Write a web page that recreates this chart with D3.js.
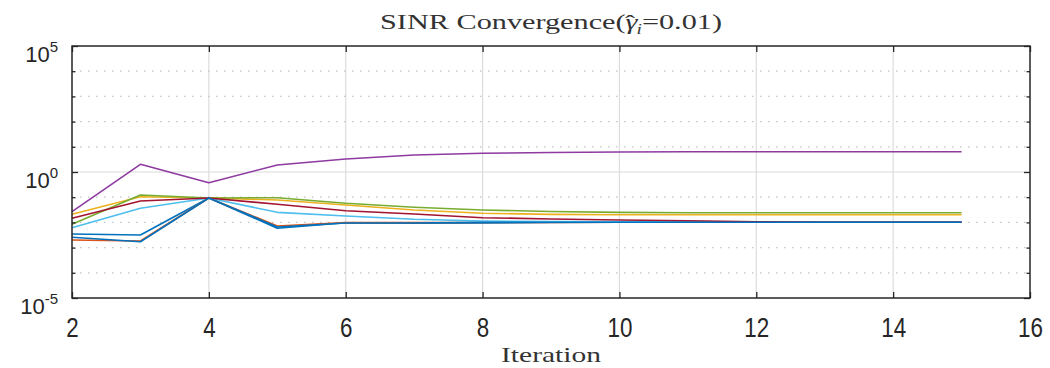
<!DOCTYPE html>
<html>
<head>
<meta charset="utf-8">
<script src="https://cdn.jsdelivr.net/npm/d3@7"></script>
<style>
  html, body { margin: 0; padding: 0; background: #fff; }
  svg { display: block; }
</style>
</head>
<body>
<svg id="chart" width="1050" height="368"></svg>
<script>
// ---- data ----
const iterations = [2, 3, 4, 5, 6, 7, 8, 9, 10, 11, 12, 13, 14, 15];
const seriesBlue1   = [0.00347, 0.00316, 0.093, 0.00583, 0.00973, 0.0092, 0.00946, 0.0099, 0.0101, 0.0102, 0.0102, 0.0102, 0.0102, 0.0102];
const seriesOrange  = [0.0020, 0.00183, 0.093, 0.0072, 0.0099, 0.0098, 0.0099, 0.0100, 0.0101, 0.0101, 0.0101, 0.0101, 0.0101, 0.0101];
const seriesYellow  = [0.0209, 0.1047, 0.093, 0.0774, 0.049, 0.031, 0.023, 0.0209, 0.0202, 0.0202, 0.0202, 0.0202, 0.0202, 0.0202];
const seriesPurple  = [0.0266, 2.02, 0.376, 1.90, 3.28, 4.73, 5.52, 5.94, 6.22, 6.34, 6.40, 6.40, 6.40, 6.40];
const seriesGreen   = [0.0084, 0.122, 0.093, 0.0955, 0.0573, 0.0398, 0.031, 0.0271, 0.0251, 0.0243, 0.0243, 0.0243, 0.0243, 0.0243];
const seriesLtBlue  = [0.00616, 0.0363, 0.093, 0.0251, 0.01795, 0.01328, 0.01137, 0.01086, 0.01056, 0.01037, 0.0102, 0.0102, 0.0102, 0.0102];
const seriesRed     = [0.01456, 0.0706, 0.093, 0.0523, 0.0291, 0.0215, 0.01538, 0.01365, 0.01245, 0.01156, 0.01066, 0.0102, 0.0102, 0.0102];
const seriesBlue2   = [0.00257, 0.00171, 0.093, 0.0066, 0.0095, 0.0095, 0.0100, 0.0101, 0.0102, 0.0102, 0.0102, 0.0102, 0.0102, 0.0102];

const xTicks = [2, 4, 6, 8, 10, 12, 14, 16];
const yMajorTicks = [1e-5, 1e0, 1e5];
const yMajorExponents = ["-5", "0", "5"];
const yMinorTicks = [1e-4, 1e-3, 1e-2, 1e-1, 1e1, 1e2, 1e3, 1e4];

const allSeries = [seriesBlue1, seriesOrange, seriesYellow, seriesPurple, seriesGreen, seriesLtBlue, seriesRed, seriesBlue2];
const colors = ["#0072BD", "#D95319", "#EDB120", "#8E3AA0", "#77AC30", "#4DBEEE", "#A2142F", "#0072BD"];

// ---- layout ----
const L = 72, R = 1030, T = 46, B = 298;
const svg = d3.select("#chart");
const x = d3.scaleLinear().domain([2, 16]).range([L, R]);
const y = d3.scaleLog().domain([1e-5, 1e5]).range([B, T]);

// grid
const grid = svg.append("g");
grid.selectAll("line.vg").data(xTicks.slice(1, -1)).join("line")
  .attr("x1", d => x(d)).attr("x2", d => x(d)).attr("y1", T).attr("y2", B)
  .attr("stroke", "#dcdcdc").attr("stroke-width", 1.2);
grid.selectAll("line.hg").data([1e0]).join("line")
  .attr("x1", L).attr("x2", R).attr("y1", d => y(d)).attr("y2", d => y(d))
  .attr("stroke", "#dcdcdc").attr("stroke-width", 1.2);
grid.selectAll("line.mg").data(yMinorTicks).join("line")
  .attr("x1", L).attr("x2", R).attr("y1", d => y(d)).attr("y2", d => y(d))
  .attr("stroke", "#c4c4c4").attr("stroke-width", 1.2).attr("stroke-dasharray", "1.5,6.5");

// lines
const line = d3.line().x((d, i) => x(iterations[i])).y(d => y(d));
svg.append("g").selectAll("path").data(allSeries).join("path")
  .attr("d", d => line(d))
  .attr("fill", "none")
  .attr("stroke", (d, i) => colors[i])
  .attr("stroke-width", 1.6)
  .attr("stroke-linejoin", "round");

// axes
const axisColor = "#262626";
const xAxisB = svg.append("g").attr("transform", `translate(0,${B})`)
  .call(d3.axisBottom(x).tickValues(xTicks).tickSizeInner(-6).tickSizeOuter(0).tickFormat(d3.format("d")));
const xAxisT = svg.append("g").attr("transform", `translate(0,${T})`)
  .call(d3.axisTop(x).tickValues(xTicks).tickSizeInner(-6).tickSizeOuter(0).tickFormat(""));
const yAxisL = svg.append("g").attr("transform", `translate(${L},0)`)
  .call(d3.axisLeft(y).tickValues(yMajorTicks).tickSizeInner(-6).tickSizeOuter(0).tickFormat(""));
const yAxisR = svg.append("g").attr("transform", `translate(${R},0)`)
  .call(d3.axisRight(y).tickValues(yMajorTicks).tickSizeInner(-6).tickSizeOuter(0).tickFormat(""));
const yMinL = svg.append("g").attr("transform", `translate(${L},0)`)
  .call(d3.axisLeft(y).tickValues(yMinorTicks).tickSizeInner(-3.5).tickSizeOuter(0).tickFormat(""));
const yMinR = svg.append("g").attr("transform", `translate(${R},0)`)
  .call(d3.axisRight(y).tickValues(yMinorTicks).tickSizeInner(-3.5).tickSizeOuter(0).tickFormat(""));

[xAxisB, xAxisT, yAxisL, yAxisR, yMinL, yMinR].forEach(g => {
  g.select(".domain").remove();
  g.selectAll(".tick line").attr("stroke", axisColor).attr("stroke-width", 1.3);
});

xAxisB.selectAll(".tick text")
  .attr("font-family", "'Liberation Sans', Arial, sans-serif")
  .attr("font-size", 28)
  .attr("fill", "#262626")
  .attr("y", 39).attr("dy", null)
  .attr("transform", "scale(0.8,1)");

// y labels with superscripts
yAxisL.selectAll(".tick").each(function(d, i) {
  const t = d3.select(this).append("text")
    .attr("x", -28).attr("y", 15)
    .attr("text-anchor", "end")
    .attr("font-family", "'Liberation Sans', Arial, sans-serif")
    .attr("font-size", 22).attr("fill", "#262626");
  t.append("tspan").text("10");
  t.append("tspan").text(yMajorExponents[i]).attr("font-size", 15).attr("dy", "-0.65em");
  t.attr("transform", "translate(14,0)");
});

// box
svg.append("rect").attr("x", L).attr("y", T).attr("width", R - L).attr("height", B - T)
  .attr("fill", "none").attr("stroke", axisColor).attr("stroke-width", 1.5);

// title
const title = svg.append("text")
  .attr("x", (L + R) / 2).attr("y", 29)
  .attr("text-anchor", "middle")
  .attr("font-family", "'Liberation Serif', 'Times New Roman', serif")
  .attr("font-size", 22).attr("fill", "#333")
  .attr("textLength", 342).attr("lengthAdjust", "spacingAndGlyphs");
title.append("tspan").text("SINR Convergence(");
title.append("tspan").text("γ").attr("font-style", "italic");
title.append("tspan").text("ˆ").attr("dx", -9).attr("dy", 1);
title.append("tspan").text("i").attr("font-style", "italic").attr("font-size", 14).attr("dx", 1).attr("dy", 4);
title.append("tspan").text("=0.01)").attr("dy", -5);

// x label
svg.append("text")
  .attr("x", (L + R) / 2).attr("y", 362)
  .attr("text-anchor", "middle")
  .attr("font-family", "'Liberation Serif', 'Times New Roman', serif")
  .attr("font-size", 22).attr("fill", "#333")
  .attr("textLength", 100).attr("lengthAdjust", "spacingAndGlyphs")
  .text("Iteration");
</script>
</body>
</html>
